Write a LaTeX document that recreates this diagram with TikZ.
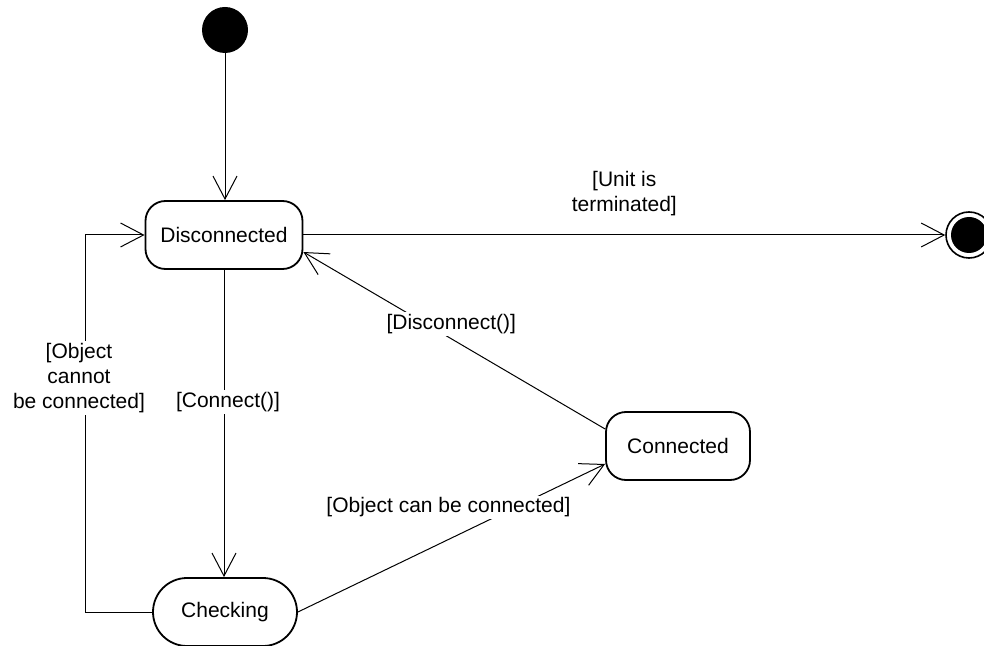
\documentclass[tikz,border=0pt]{standalone}
\usepackage{fontspec}
\setmainfont{Liberation Sans}
\usetikzlibrary{arrows.meta}
\begin{document}
\begin{tikzpicture}[x=0.5pt,y=-0.5pt,
  every node/.style={font=\fontsize{10.5pt}{12.5pt}\selectfont},
  statebox/.style={draw, line width=0.9pt, rounded corners=10pt, minimum height=34pt, inner sep=0pt},
  capsule/.style={draw, line width=0.9pt, rounded corners=17pt, minimum height=34pt, minimum width=72pt, inner sep=0pt},
  trans/.style={line width=0.5pt, -{Straight Barb[length=11.5pt,width=12pt]}},
  guard/.style={fill=white, inner sep=1pt, align=center}]
  \useasboundingbox (0,0) rectangle (984,646);

  % states
  \node[circle, fill=black, minimum size=23pt, inner sep=0pt] (init) at (225,30) {};
  \node[statebox, minimum width=78.5pt] (dis) at (224,235) {Disconnected};
  \node[statebox, minimum width=72pt] (con) at (678,446) {Connected};
  \node[capsule] (chk) at (225,612) {Checking};
  \node[circle, draw, line width=0.8pt, minimum size=23pt, inner sep=0pt] (final) at (969,235) {};
  \fill (final.center) circle (9pt);

  \coordinate (loop) at (85,612);

  % transitions
  \draw[trans] (init.south) -- (init.south |- dis.north);
  \draw[trans] (dis.east) -- (final.west)
    node[midway, above=6pt, align=center] {[Unit is\\terminated]};
  \draw[trans] (dis.south) -- (dis.south |- chk.north)
    node[pos=0.43, guard, xshift=2pt] {[Connect()]};
  \draw[trans] (chk.west) -- (loop) |- (dis.west)
    node[pos=0.31, guard, xshift=-3pt] {[Object\\cannot\\be connected]};
  \draw[trans] ([yshift=8.5pt]con.west) -- ([yshift=-8.5pt]dis.east)
    node[pos=0.49, guard, xshift=-3pt, yshift=9pt] {[Disconnect()]};
  \draw[trans] (chk.east) -- ([yshift=-9pt]con.west)
    node[pos=0.49, guard, yshift=16pt] {[Object can be connected]};
\end{tikzpicture}
\end{document}
